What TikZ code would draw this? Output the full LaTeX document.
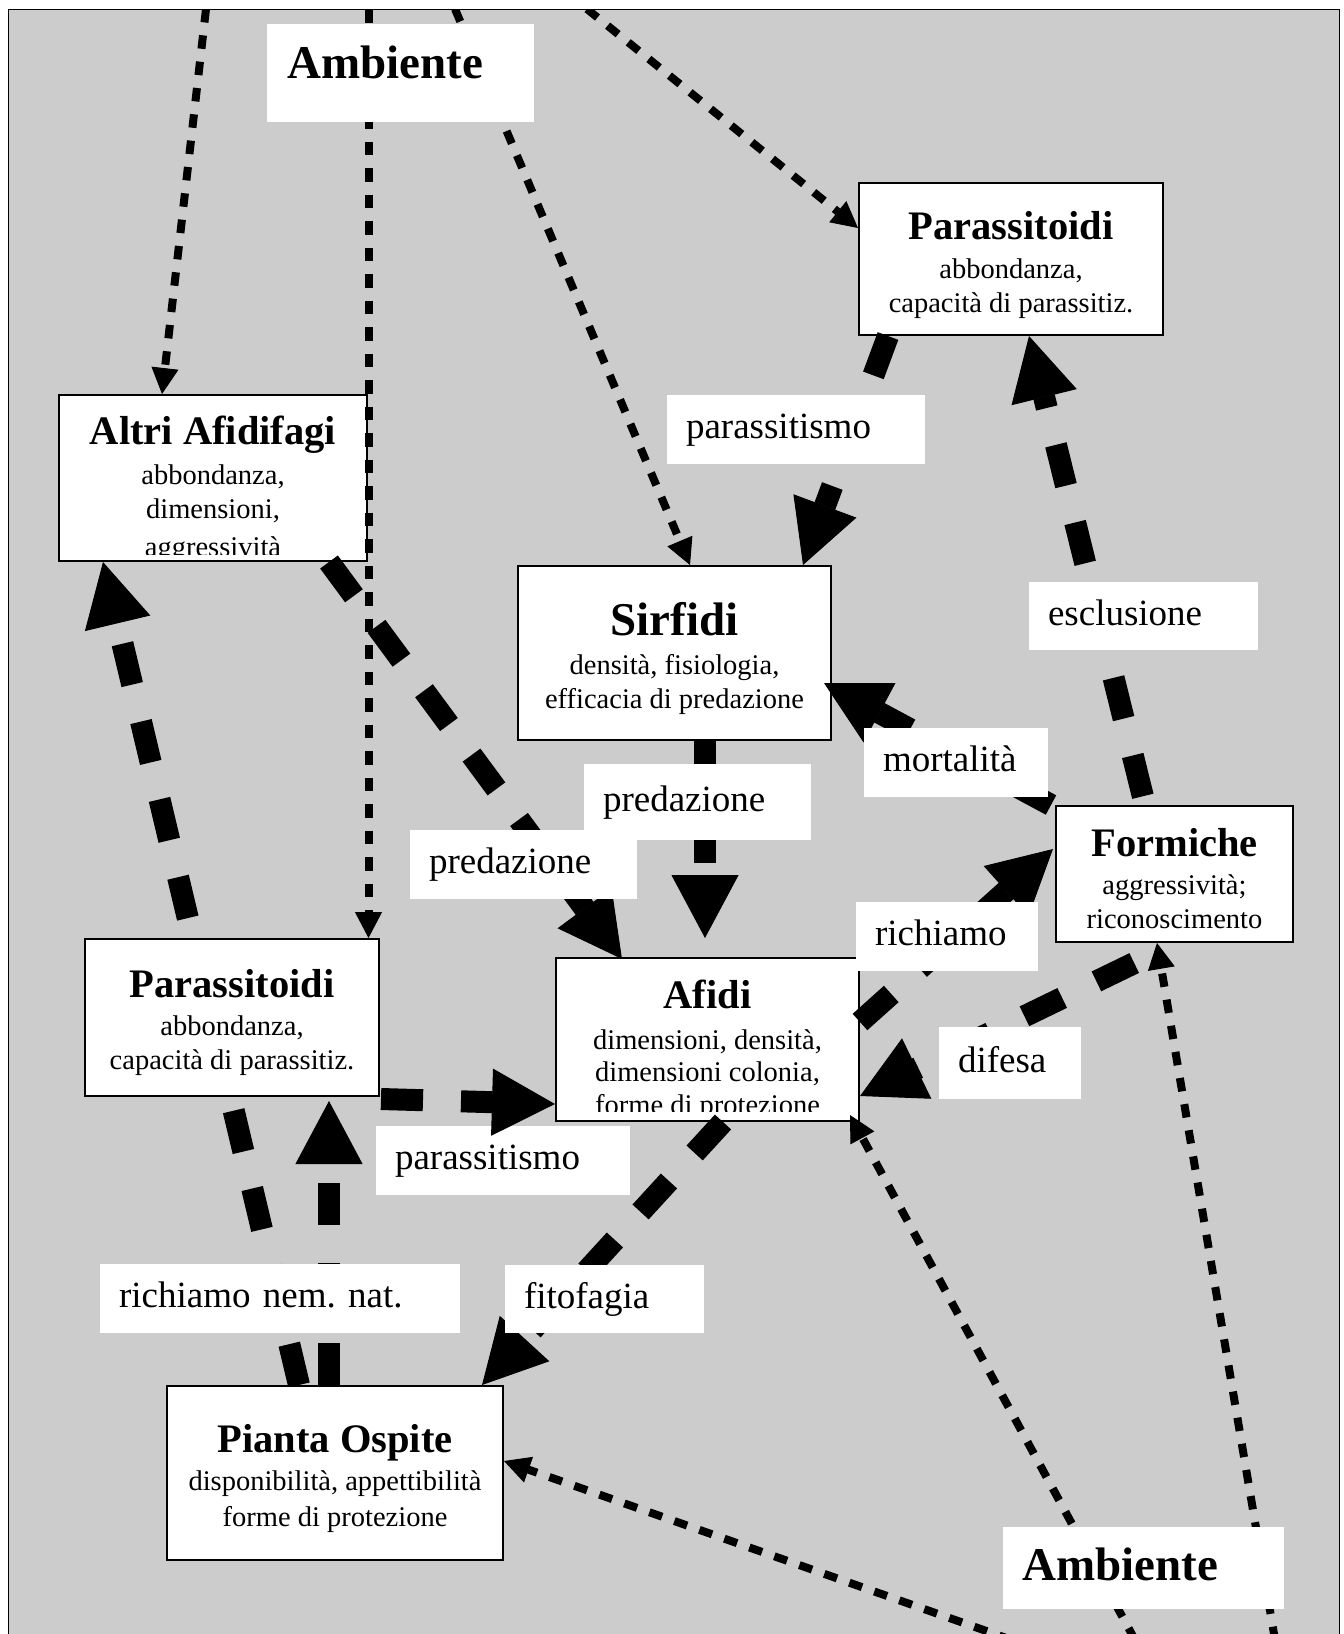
\documentclass[tikz,border=0pt]{standalone}
\usepackage{fontspec}
\setmainfont{Liberation Serif}
\usetikzlibrary{arrows.meta,calc}

\definecolor{bggray}{RGB}{204,204,204}

\pgfdeclarelayer{back}
\pgfdeclarelayer{mid}
\pgfsetlayers{back,mid,main}

\tikzset{every picture/.style={line width=2pt}}
\tikzset{
  box/.style={draw, fill=white, line width=2pt, inner sep=0pt},
  wbox/.style={fill=white, inner sep=0pt},
  lbl/.style={fill=white, inner xsep=19pt, inner ysep=0pt, text height=26pt, text depth=8pt, align=left, font=\fontsize{37}{42}\selectfont},
  ttl/.style={anchor=base, inner sep=0pt, font=\fontsize{40.5}{45}\selectfont\bfseries},
  sub/.style={anchor=base, inner sep=0pt, font=\fontsize{28.5}{32}\selectfont},
  amb/.style={anchor=base west, inner sep=0pt, font=\fontsize{47}{52}\selectfont\bfseries},
  envline/.style={line width=8pt, dash pattern=on 13.5pt off 13pt, -{Triangle[length=26pt,width=27pt,line width=1pt]}},
  effline/.style={line width=22pt, dash pattern=on 42pt off 38pt, -{Triangle[length=63pt,width=67pt,line width=1pt]}}
}

\begin{document}
\frenchspacing
\begin{tikzpicture}[x=1pt,y=1pt,yscale=-1,xscale=1]
        \useasboundingbox (0,0) rectangle (1344,1634);

        %Shape: Frame
        \begin{pgfonlayer}{back}
        \fill[white] (0,0) rectangle (1344,1634);
        \draw[fill=bggray] (8,9) rectangle (1339,1660);
        \end{pgfonlayer}

        %Shape: Rectangle (Parassitoidi, alto)
        \node[box, minimum width=304pt, minimum height=152pt] (parTop) at (1011,259) {};
        % Text Node
        \node[ttl] (parTopA) at (1011,239) {Parassitoidi};
        \node[sub] (parTopB) at (1011,278.5) {abbondanza,};
        \node[sub] (parTopC) at (1011,312) {capacità di parassitiz.};

        %Shape: Rectangle (Altri Afidifagi)
        \node[box, minimum width=308pt, minimum height=166pt] (altri) at (213,478) {};
        % Text Node
        \node[ttl] (altriA) at (213,444) {Altri Afidifagi};
        \node[sub] (altriB) at (213,484) {abbondanza,};
        \node[sub] (altriC) at (213,518.5) {dimensioni,};
        \begin{scope}
        \clip (59,395) rectangle (367,554);
        \node[sub] (altriD) at (213,556) {aggressività};
        \end{scope}

        %Shape: Rectangle (Sirfidi)
        \node[box, minimum width=313pt, minimum height=174pt] (sirfidi) at (674.5,653) {};
        % Text Node
        \node[ttl, font=\fontsize{47}{52}\selectfont\bfseries] (sirfidiA) at (674.5,635) {Sirfidi};
        \node[sub] (sirfidiB) at (674.5,674) {densità, fisiologia,};
        \node[sub] (sirfidiC) at (674.5,708) {efficacia di predazione};

        %Shape: Rectangle (Afidi)
        \node[box, minimum width=303pt, minimum height=163pt] (afidi) at (707.5,1039.5) {};
        % Text Node
        \node[ttl] (afidiA) at (707.5,1008) {Afidi};
        \node[sub] (afidiB) at (707.5,1049) {dimensioni, densità,};
        \node[sub] (afidiC) at (707.5,1081) {dimensioni colonia,};
        \begin{scope}
        \clip (556,958) rectangle (859,1111);
        \node[sub] (afidiD) at (707.5,1114) {forme di protezione};
        \end{scope}

        %Shape: Rectangle (Formiche)
        \node[box, minimum width=237pt, minimum height=136pt] (formiche) at (1174.5,874) {};
        % Text Node
        \node[ttl] (formicheA) at (1174.5,856) {Formiche};
        \node[sub] (formicheB) at (1174.5,894) {aggressività;};
        \node[sub] (formicheC) at (1174.5,928) {riconoscimento};

        %Shape: Rectangle (Parassitoidi, basso)
        \node[box, minimum width=294pt, minimum height=157pt] (parLeft) at (232,1017.5) {};
        % Text Node
        \node[ttl] (parLeftA) at (232,997) {Parassitoidi};
        \node[sub] (parLeftB) at (232,1035) {abbondanza,};
        \node[sub] (parLeftC) at (232,1069) {capacità di parassitiz.};

        %Shape: Rectangle (Pianta Ospite)
        \node[box, minimum width=336pt, minimum height=174pt] (pianta) at (335,1473) {};
        % Text Node
        \node[ttl] (piantaA) at (335,1452) {Pianta Ospite};
        \node[sub] (piantaB) at (335,1490) {disponibilità, appettibilità};
        \node[sub] (piantaC) at (335,1526) {forme di protezione};

        %Straight Lines (ambiente)
        \coordinate (envA) at (206,9);
        \coordinate (envB) at (368.5,9);
        \coordinate (envC) at (455,9);
        \coordinate (envD) at (587,9);
        \coordinate (envE) at (1135,1640);
        \coordinate (envF) at (1275,1640);
        \coordinate (envG) at (1012,1640);
        \begin{scope}
        \clip (8,9) rectangle (1339,1660);
        \draw[envline] (envA) -- ($(altri.north)+(-51,0)$);
        \draw[envline] (envB) -- ($(parLeft.north)+(136.5,0)$);
        \draw[envline] (envC) -- ($(sirfidi.north)+(15.5,0)$);
        \draw[envline] (envD) -- ($(parTop.west)+(0,-31)$);
        \draw[envline] (envE) -- ($(afidi.south east)+(-10,-7)$);
        \draw[envline] (envF) -- ($(formiche.south)+(-17.5,0)$);
        \draw[envline] (envG) -- ($(pianta.east)+(0,-12)$);
        \end{scope}

        %Straight Lines (relazioni)
        \begin{pgfonlayer}{mid}
        \draw[effline] ($(pianta.north)+(-36,0)$) -- ($(altri.south)+(-110,0)$);
        \end{pgfonlayer}
        \draw[effline] ($(parTop.south)+(-123,0)$) -- ($(sirfidi.north)+(128.5,0)$);
        \draw[effline, dash phase=71pt] ($(formiche.north)+(-29.5,0)$) -- ($(parTop.south)+(18,0)$);
        \draw[effline] ($(sirfidi.south)+(30.5,0)$) -- ($(afidi.north)+(-2.5,-19)$);
        \draw[effline] ($(altri.south)+(116,0)$) -- ($(afidi.north)+(-85.5,2)$);
        \draw[effline] ($(afidi.south)+(15.5,0)$) -- ($(pianta.north)+(147,0)$);
        \draw[effline] ($(pianta.north)+(-6,0)$) -- ($(parLeft.south)+(97,4)$);
        \draw[effline] ($(formiche.north west)+(-4,0)$) -- ($(sirfidi.east)+(-8,30)$);
        \draw[effline] ($(afidi.east)+(0,-17.5)$) -- ($(formiche.west)+(-2,-25)$);
        \draw[effline, dash phase=73pt] ($(formiche.south)+(-34,17)$) -- ($(afidi.east)+(0,56.5)$);

        %Shape: Ambiente
        \node[wbox, minimum width=267pt, minimum height=98pt] (ambTop) at (400.5,73) {};
        \node[amb] (ambTopTxt) at (287,78.5) {Ambiente};
        \node[wbox, minimum width=281pt, minimum height=82pt] (ambBot) at (1143.5,1568) {};
        \node[amb] (ambBotTxt) at (1022,1580) {Ambiente};

        % Text Node (etichette)
        \node[lbl, text width=220pt, minimum height=69pt] (lblParA) at (796,429.5) {parassitismo};
        \node[lbl, text width=191pt, minimum height=68pt] (lblEscl) at (1143.5,616) {esclusione};
        \node[lbl, text width=146pt, minimum height=69pt] (lblMort) at (956,762.5) {mortalità};
        \node[lbl, text width=189pt, minimum height=76pt] (lblPredA) at (697.5,802) {predazione};
        \node[lbl, text width=189pt, minimum height=69pt] (lblPredB) at (523.5,864.5) {predazione};
        \node[lbl, text width=144pt, minimum height=69pt] (lblRich) at (947,936.5) {richiamo};
        \node[lbl, text width=104pt, minimum height=72pt] (lblDif) at (1010,1063) {difesa};
        \node[lbl, text width=216pt, minimum height=69pt] (lblParB) at (503,1160.5) {parassitismo};
        \node[lbl, text width=322pt, minimum height=69pt] (lblNem) at (280,1298.5) {richiamo nem. nat.};
        \node[lbl, text width=161pt, minimum height=68pt] (lblFito) at (604.5,1299) {fitofagia};

        %Straight Lines (sopra etichetta)
        \draw[effline] ($(parLeft.east)+(1,81.5)$) -- ($(afidi.west)+(0,64.5)$);

\end{tikzpicture}
\end{document}
